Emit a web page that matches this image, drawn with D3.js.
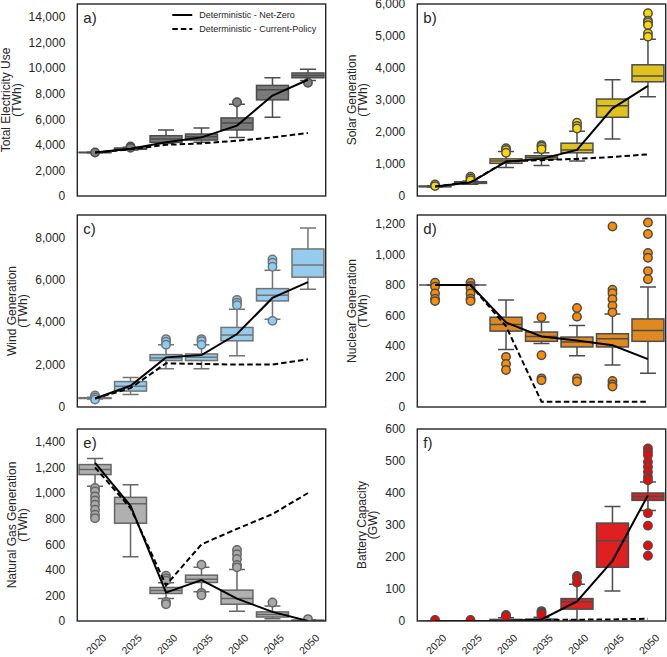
<!DOCTYPE html>
<html><head><meta charset="utf-8">
<script src="https://cdn.jsdelivr.net/npm/d3@7"></script>
<style>
body{margin:0;background:#fff}
svg{display:block}
text{font-family:"Liberation Sans",Arial,sans-serif;fill:#262626}
</style>
</head><body>
<svg id="c" width="667" height="657"></svg>
<script>
const years = ["2020","2025","2030","2035","2040","2045","2050"];

// box stats per year: [whiskerLow, q1, median, q3, whiskerHigh]
const elecBox = [[3380,3390,3400,3410,3420],[3600,3650,3700,3750,3800],[4100,4190,4450,4710,5160],[4200,4370,4630,4840,5310],[4580,5160,5700,6100,7170],[6150,7510,8300,8640,9240],[9030,9240,9420,9610,9900]];
const elecOut = [[3400],[3870,3760],[],[],[7330],[],[8850]];
const elecNZ = [3400,3700,4200,4580,5500,7850,9080];
const elecCP = [3400,3650,4000,4110,4320,4580,4920];
const elecTicks = [0,2000,4000,6000,8000,10000,12000,14000];

const solarBox = [[280,290,300,310,320],[370,395,420,445,470],[890,1020,1090,1160,1390],[950,1150,1210,1260,1350],[1090,1350,1440,1650,2020],[1780,2460,2820,3030,3630],[3100,3570,3750,4100,4900]];
const solarOut = [[360,310],[600,550,490],[1490,1440,1350],[1590,1540,1460],[2290,2190,2110],[],[5710,5480,5420,5340,5080,4980]];
const solarNZ = [300,420,1070,1160,1440,2740,3440];
const solarCP = [300,430,1080,1120,1160,1220,1300];
const solarTicks = [0,1000,2000,3000,4000,5000,6000];

const windBox = [[380,400,420,440,460],[590,750,980,1200,1390],[1800,2190,2310,2470,2940],[1800,2190,2340,2500,2940],[2420,3120,3390,3750,4610],[4140,5000,5270,5580,6450],[5550,6120,6690,7450,8440]];
const windOut = [[540,450,350],[],[3200,3080,2940],[3200,3100,2940],[5050,4920,4800],[6950,6800,6610,4060],[]];
const windNZ = [400,1000,2340,2450,3440,5140,5890];
const windCP = [400,890,2060,2030,2000,2000,2250];
const windTicks = [0,2000,4000,6000,8000];

const nucBox = [[800,800,800,800,800],[800,800,800,800,800],[377,498,541,589,702],[416,431,463,492,557],[336,394,427,459,535],[275,394,448,481,611],[221,431,502,578,788]];
const nucOut = [[815,790,745,710,695],[815,795,780,745,710,695],[329,282,243],[589,340,188,175],[650,593,188,167],[1185,769,747,708,665,621,171,148,134],[1211,1135,1011,979,892,838]];
const nucNZ = [800,800,555,463,437,405,314];
const nucCP = [800,800,530,35,35,35,35];
const nucTicks = [0,200,400,600,800,1000,1200];

const gasBox = [[1052,1144,1183,1222,1269],[502,764,916,966,1065],[175,215,238,262,298],[228,301,327,358,420],[76,131,175,241,403],[18,31,50,71,118],[0,2,4,6,10]];
const gasOut = [[1039,1013,974,942,908,869,830,803],[],[353,332,314,149,131],[440,220,201],[555,521,484,437,419],[144],[15]];
const gasNZ = [1235,900,222,319,175,71,0];
const gasCP = [1200,882,280,599,720,835,1000];
const gasTicks = [0,200,400,600,800,1000,1200,1400];

const batBox = [[0,0,0,0,0],[0,0,0,0,0],[0,0,2,5,10],[0,1,3,6,12],[2,37,60,70,115],[94,168,251,306,358],[345,377,389,400,434]];
const batOut = [[3],[3],[19,14],[31,26,19],[141,134,120],[],[539,529,518,497,481,466,450,440,337,298,236,204]];
const batNZ = [0,0,0,5,61,188,393];
const batCP = [0,0,0,3,4,5,7];
const batTicks = [0,100,200,300,400,500,600];

const panelKeys = ["a)","b)","c)","d)","e)","f)"];
const panelLabels = [["Total Electricity Use","(TWh)"],["Solar Generation","(TWh)"],["Wind Generation","(TWh)"],["Nuclear Generation","(TWh)"],["Natural Gas Generation","(TWh)"],["Battery Capacity","(GW)"]];
const legendLabels = ["Deterministic - Net-Zero","Deterministic - Current-Policy"];

const svg = d3.select("#c");
const W = 248.4, H = 192;
const colX = [77.3, 417.3], rowY = [4, 215, 429];

const panels = [
  {box:elecBox,out:elecOut,nz:elecNZ,cp:elecCP,ticks:elecTicks,ymax:15000,fill:"#7a7a7a",flier:"#808080",edge:"#4c4c4c"},
  {box:solarBox,out:solarOut,nz:solarNZ,cp:solarCP,ticks:solarTicks,ymax:6000,fill:"#dfc220",flier:"#ffd700",edge:"#4c4c4c"},
  {box:windBox,out:windOut,nz:windNZ,cp:windCP,ticks:windTicks,ymax:9050,fill:"#95cbec",flier:"#87cefa",edge:"#737373"},
  {box:nucBox,out:nucOut,nz:nucNZ,cp:nucCP,ticks:nucTicks,ymax:1260,fill:"#df8920",flier:"#ff8c00",edge:"#4c4c4c"},
  {box:gasBox,out:gasOut,nz:gasNZ,cp:gasCP,ticks:gasTicks,ymax:1500,fill:"#b0b0b0",flier:"#a9a9a9",edge:"#656565"},
  {box:batBox,out:batOut,nz:batNZ,cp:batCP,ticks:batTicks,ymax:600,fill:"#df2020",flier:"#ff0000",edge:"#4c4c4c"}
];

panels.forEach((p, i) => {
  const col = i % 2, row = Math.floor(i / 2);
  const g = svg.append("g").attr("transform", `translate(${colX[col]},${rowY[row]})`);
  const x = d3.scaleBand().domain(years).range([0, W]).padding(0);
  const y = d3.scaleLinear().domain([0, p.ymax]).range([H, 0]);
  const bw = x.bandwidth() * 0.9, cw = x.bandwidth() * 0.45;
  const cx = d => x(d) + x.bandwidth() / 2;

  g.append("clipPath").attr("id", "clip" + i).append("rect").attr("width", W).attr("height", H);
  const plot = g.append("g").attr("clip-path", `url(#clip${i})`);

  years.forEach((yr, j) => {
    const [lo, q1, md, q3, hi] = p.box[j];
    const c = cx(yr);
    const bg = plot.append("g").attr("stroke", p.edge).attr("stroke-width", 1.5);
    bg.append("line").attr("x1", c).attr("x2", c).attr("y1", y(q3)).attr("y2", y(hi));
    bg.append("line").attr("x1", c).attr("x2", c).attr("y1", y(q1)).attr("y2", y(lo));
    bg.append("line").attr("x1", c - cw/2).attr("x2", c + cw/2).attr("y1", y(hi)).attr("y2", y(hi));
    bg.append("line").attr("x1", c - cw/2).attr("x2", c + cw/2).attr("y1", y(lo)).attr("y2", y(lo));
    bg.append("rect").attr("x", c - bw/2).attr("width", bw).attr("y", y(q3)).attr("height", Math.max(0, y(q1) - y(q3))).attr("fill", p.fill);
    bg.append("line").attr("x1", c - bw/2).attr("x2", c + bw/2).attr("y1", y(md)).attr("y2", y(md));
    p.out[j].forEach(v => {
      bg.append("circle").attr("cx", c).attr("cy", y(v)).attr("r", 4.2).attr("fill", p.flier);
    });
  });

  const line = d3.line().x((d, j) => cx(years[j])).y(d => y(d));
  plot.append("path").attr("d", line(p.cp)).attr("fill", "none").attr("stroke", "#000").attr("stroke-width", 2).attr("stroke-dasharray", "5.5,3");
  plot.append("path").attr("d", line(p.nz)).attr("fill", "none").attr("stroke", "#000").attr("stroke-width", 2);

  const ya = g.append("g").call(d3.axisLeft(y).tickValues(p.ticks).tickSize(0).tickPadding(12).tickFormat(d3.format(",")));
  ya.select(".domain").remove();
  ya.selectAll("text").attr("font-size", 12).style("font-family", '"Liberation Sans",Arial,sans-serif').attr("fill", "#262626");
  let minX = 0;
  ya.selectAll("text").each(function(){ const b = this.getBBox(); minX = Math.min(minX, b.x); });
  const lab = g.append("g").attr("transform", `translate(${minX},${H/2}) rotate(-90)`);
  lab.append("text").attr("x", 0).attr("y", -23).attr("text-anchor", "middle").attr("dominant-baseline", "central").attr("font-size", 12).text(panelLabels[i][0]);
  lab.append("text").attr("x", 0).attr("y", -12).attr("text-anchor", "middle").attr("dominant-baseline", "central").attr("font-size", 12).text(panelLabels[i][1]);

  if (row === 2) {
    const xa = g.append("g").attr("transform", `translate(0,${H})`).call(d3.axisBottom(x).tickSize(0));
    xa.select(".domain").remove();
    xa.selectAll("text").attr("font-size", 10.5).attr("y", null).attr("dy", null)
      .attr("text-anchor", "middle").attr("dominant-baseline", "central")
      .attr("transform", "translate(1,23) rotate(-45)").attr("fill", "#262626");
  }

  g.append("text").attr("x", 6).attr("y", 19).attr("font-size", 15).text(panelKeys[i]);

  g.append("rect").attr("width", W).attr("height", H).attr("fill", "none").attr("stroke", "#262626").attr("stroke-width", 1.4);

  if (i === 0) {
    const lg = g.append("g");
    [0, 1].forEach(k => {
      const ly = 11 + k * 14;
      lg.append("line").attr("x1", 95).attr("x2", 115).attr("y1", ly).attr("y2", ly)
        .attr("stroke", "#000").attr("stroke-width", 2).attr("stroke-dasharray", k ? "5.5,3" : null);
      lg.append("text").attr("x", 122).attr("y", ly).attr("dominant-baseline", "central").attr("font-size", 9).text(legendLabels[k]);
    });
  }
});
</script>
</body></html>
